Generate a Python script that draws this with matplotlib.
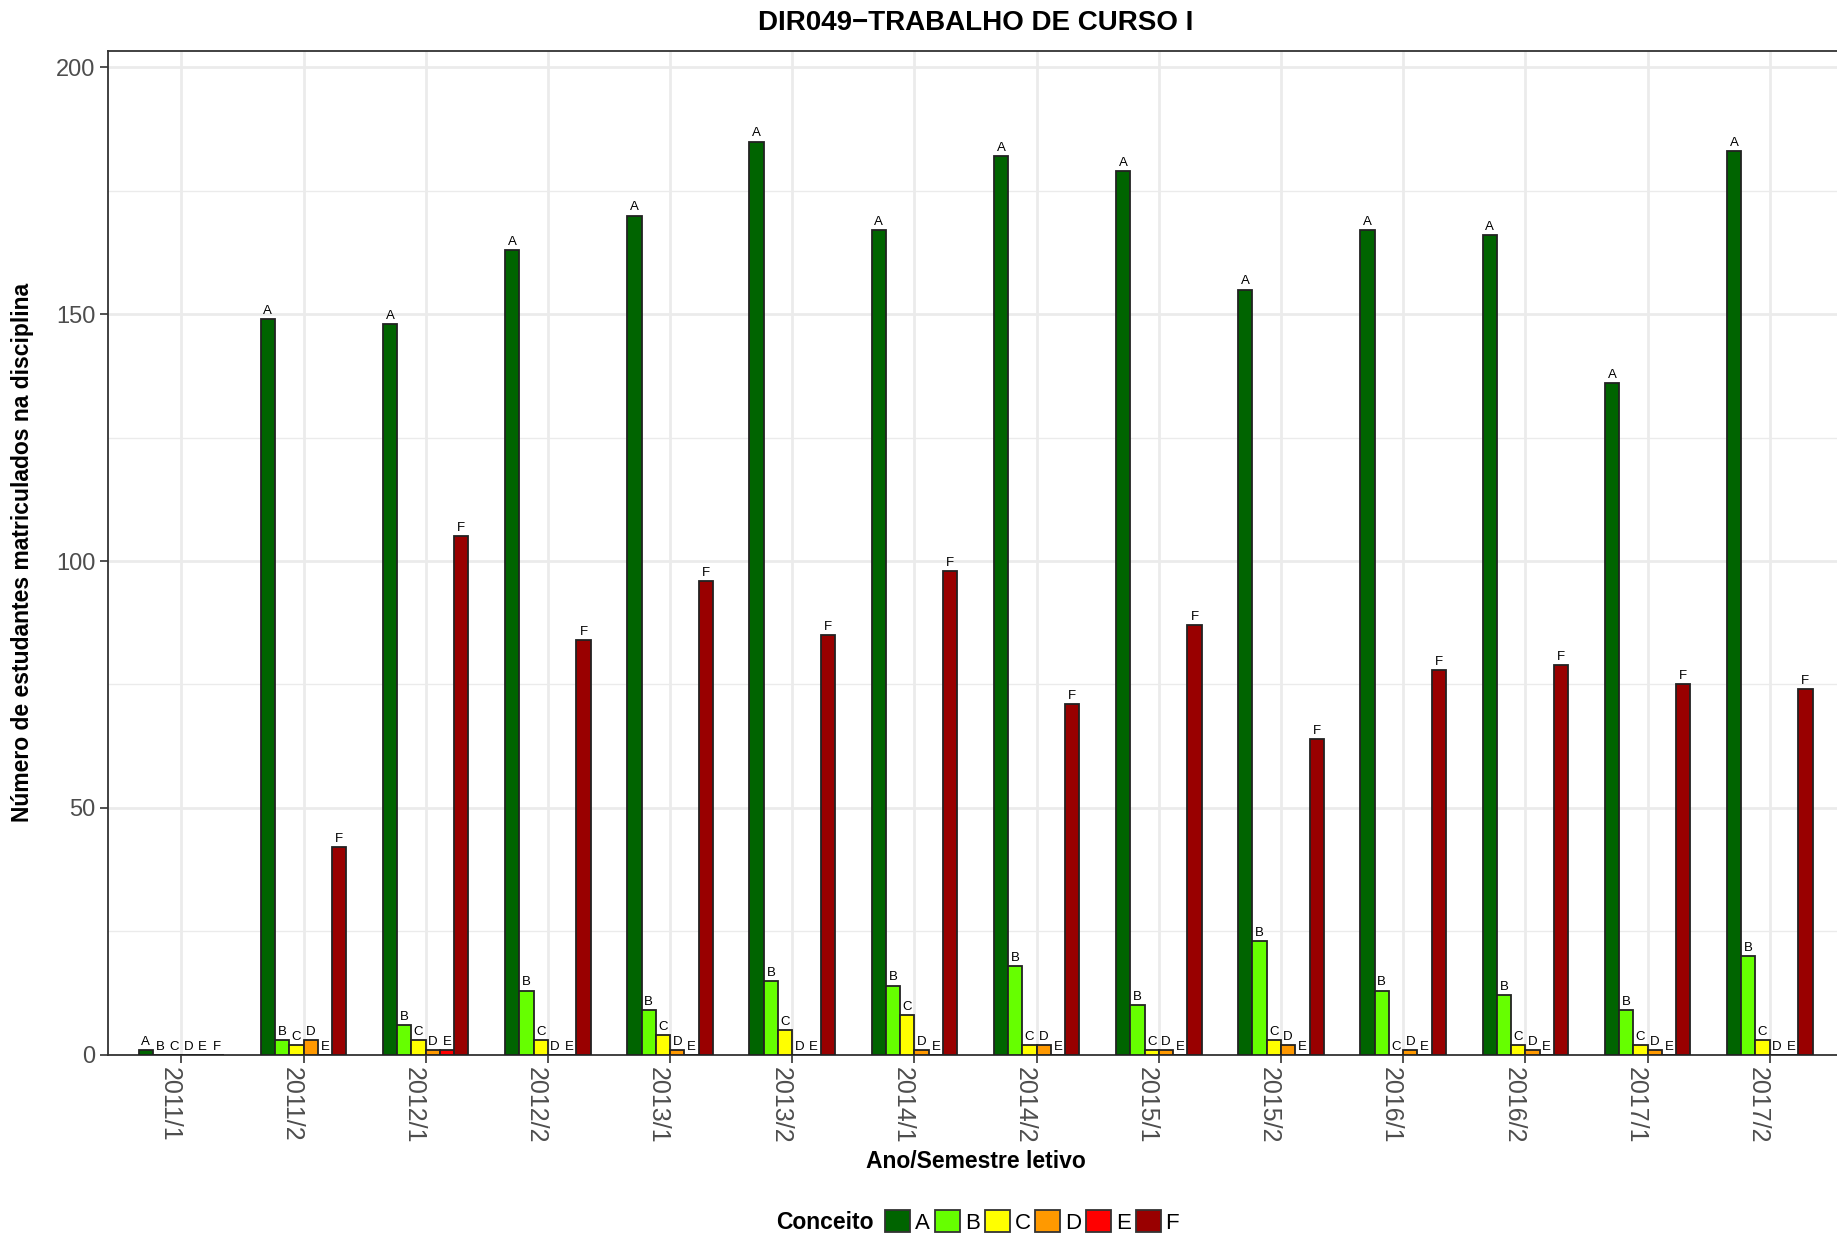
import numpy as np
import matplotlib
matplotlib.use("Agg")
import matplotlib.pyplot as plt
from matplotlib.patches import Patch

plt.rcParams["font.family"] = ["Liberation Sans", "DejaVu Sans"]

# Alunos matriculados por conceito e semestre
semestres = ["2011/1", "2011/2", "2012/1", "2012/2", "2013/1", "2013/2", "2014/1",
             "2014/2", "2015/1", "2015/2", "2016/1", "2016/2", "2017/1", "2017/2"]
conceitos = ["A", "B", "C", "D", "E", "F"]
conc_A = [1, 149, 148, 163, 170, 185, 167, 182, 179, 155, 167, 166, 136, 183]
conc_B = [0, 3, 6, 13, 9, 15, 14, 18, 10, 23, 13, 12, 9, 20]
conc_C = [0, 2, 3, 3, 4, 5, 8, 2, 1, 3, 0, 2, 2, 3]
conc_D = [0, 3, 1, 0, 1, 0, 1, 2, 1, 2, 1, 1, 1, 0]
conc_E = [0, 0, 1, 0, 0, 0, 0, 0, 0, 0, 0, 0, 0, 0]
conc_F = [0, 42, 105, 84, 96, 85, 98, 71, 87, 64, 78, 79, 75, 74]
cores = ["#006400", "#66FF00", "#FFFF00", "#FF9900", "#FF0000", "#990000"]

valores = [conc_A, conc_B, conc_C, conc_D, conc_E, conc_F]

fig = plt.figure(figsize=(18.37, 12.36), dpi=100)
ax = fig.add_axes([0.0588, 0.1467, 0.9445, 0.8123])

x = np.arange(len(semestres))
larg = 0.7 / len(conceitos)
for i, (conc, vals, cor) in enumerate(zip(conceitos, valores, cores)):
    pos = x - 0.35 + larg * (i + 0.5)
    ax.bar(pos, vals, width=larg, color=cor, edgecolor="#222222", linewidth=1.3, zorder=3)
    for xp, v in zip(pos, vals):
        ax.annotate(conc, (xp, v), xytext=(0, 1.5), textcoords="offset points",
                    ha="center", va="bottom", fontsize=9.5, color="black", zorder=4)

ax.set_xlim(-0.6, 13.6)
ax.set_ylim(0, 203.4)
ax.set_xticks(x)
# rótulos do eixo x terminam no tick (lado esquerdo)
ax.set_xticklabels(semestres, rotation=270, ha="right", fontsize=18, color="#4D4D4D")
ax.set_yticks([0, 50, 100, 150, 200])
ax.set_yticks([25, 75, 125, 175], minor=True)
ax.tick_params(axis="y", labelsize=17, labelcolor="#4D4D4D")
ax.tick_params(which="major", length=6, width=1.2, color="#333333", pad=3)
ax.tick_params(which="minor", length=0)

ax.grid(which="major", color="#EBEBEB", linewidth=2, zorder=0)
ax.grid(which="minor", axis="y", color="#EBEBEB", linewidth=1, zorder=0)
ax.set_axisbelow(True)
for s in ax.spines.values():
    s.set_color("#333333")
    s.set_linewidth(1.3)

fig.text(0.531, 0.0605, "Ano/Semestre letivo", fontsize=16.5, fontweight="bold",
         ha="center", va="center")
fig.text(0.0125, 0.553, "Número de estudantes matriculados na disciplina", fontsize=16.5,
         fontweight="bold", rotation=90, ha="center", va="center")
fig.text(0.531, 0.981, "DIR049\u2212TRABALHO DE CURSO I", fontsize=20, fontweight="bold",
         ha="center", va="center")

# legenda horizontal embaixo
handles = [Patch(facecolor=c, edgecolor="#333333", linewidth=1.3) for c in cores]
fig.text(0.4758, 0.0113, "Conceito", fontsize=16.5, fontweight="bold", ha="right", va="center")
fig.legend(handles, conceitos, ncol=6, loc="center left", bbox_to_anchor=(0.482, 0.0113),
           frameon=False, fontsize=16, handlelength=1.125, handleheight=1.125,
           handletextpad=0.22, columnspacing=0.215, borderaxespad=0, borderpad=0)

fig.savefig("out.png", dpi=100)
